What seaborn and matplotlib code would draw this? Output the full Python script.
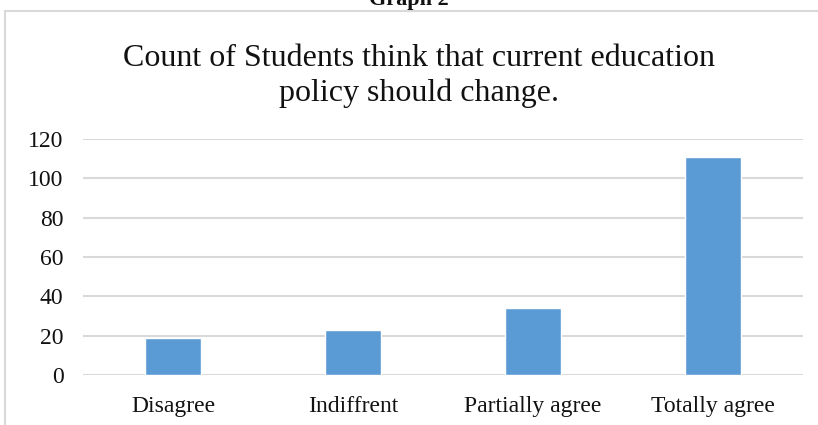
import matplotlib
matplotlib.use("Agg")
import matplotlib.pyplot as plt
import seaborn as sns
import pandas as pd
from matplotlib.patches import Rectangle

categories = ["Disagree", "Indiffrent", "Partially agree", "Totally agree"]
counts = [19, 23, 34, 111]
yticks = [0, 20, 40, 60, 80, 100, 120]

sns.set_style("white")
plt.rcParams['font.family'] = ['Liberation Serif', 'DejaVu Serif']

df = pd.DataFrame({"category": categories, "count": counts})

fig = plt.figure(figsize=(8.18, 4.25), dpi=100)
ax = fig.add_axes([83/818, 1-375/425, 720/818, 236/425])

sns.barplot(data=df, x="category", y="count", color="#5B9BD5", width=0.316,
            saturation=1, ax=ax, zorder=3)

ax.set_ylim(0, 120)
ax.set_yticks(yticks)
ax.set_xlim(-0.5, 3.5)
ax.yaxis.grid(True, color="#d9d9d9", linewidth=1.5, zorder=0)
ax.set_axisbelow(True)
for s in ax.spines.values():
    s.set_visible(False)
ax.tick_params(axis="both", length=0, labelsize=17, colors="#111111")
ax.tick_params(axis="y", pad=14)
ax.tick_params(axis="x", pad=15)
ax.set_xlabel("")
ax.set_ylabel("")

fig.text(419/818, 1-76/425, "Count of Students think that current education\npolicy should change.",
         ha="center", va="center", fontsize=23, color="#111111", linespacing=1.22)

fig.text(0.5, 1.0, "Graph 2", ha="center", va="center", fontsize=16,
         fontweight="bold", color="#111111")

border = Rectangle((5/818, -0.1), 1.0, 1 - 11/425 + 0.1, transform=fig.transFigure,
                   fill=False, edgecolor="#d9d9d9", linewidth=1.5)
fig.add_artist(border)

fig.savefig("out.png", dpi=100)
